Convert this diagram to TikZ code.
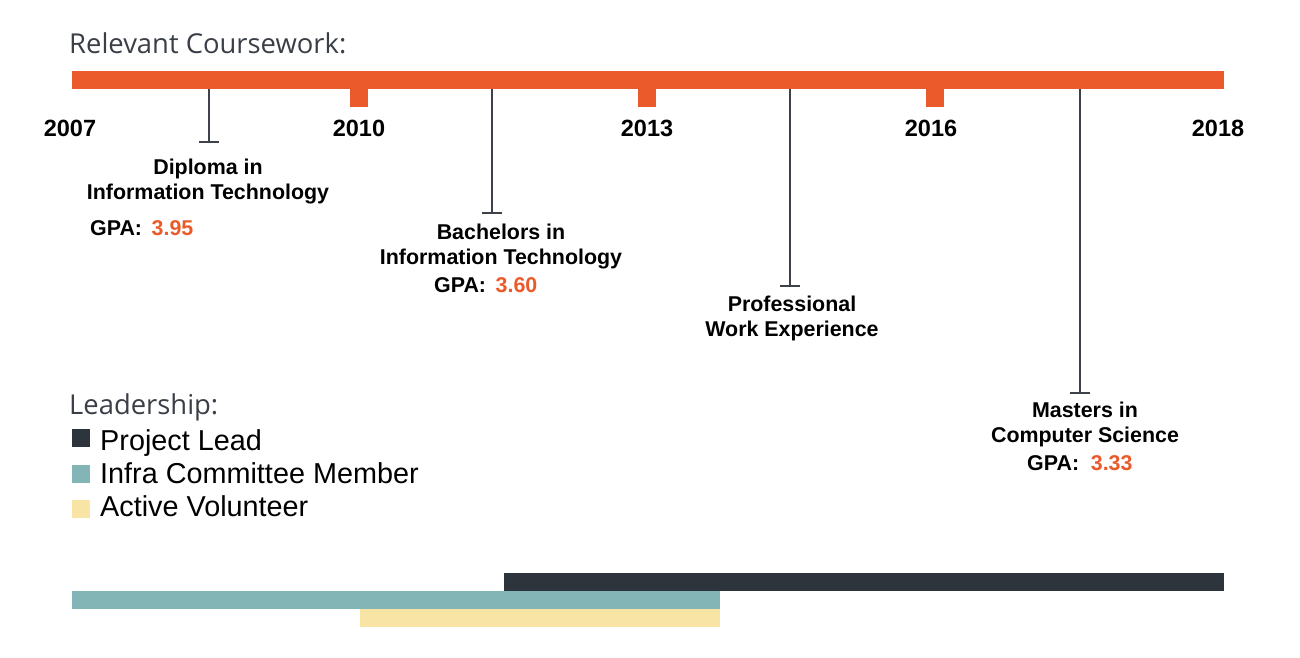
\documentclass[tikz,border=0pt]{standalone}
\usepackage{fontspec}
\setmainfont{Liberation Sans}
\newfontfamily\headfont{Open Sans}
\usetikzlibrary{arrows.meta}
\definecolor{orng}{HTML}{EB5A2B}
\definecolor{darkbar}{HTML}{2E343B}
\definecolor{tealbar}{HTML}{84B5B6}
\definecolor{yelbar}{HTML}{F8E5A6}
\definecolor{headgray}{HTML}{3A3F47}
\definecolor{linegray}{HTML}{3D424A}
\tikzset{
  yearlbl/.style={anchor=base, inner sep=0pt, font=\bfseries\fontsize{23.5}{28}\selectfont},
  itemlbl/.style={anchor=base, inner sep=0pt, font=\bfseries\fontsize{21.4}{25}\selectfont},
  gpalbl/.style={anchor=base west, inner sep=0pt, font=\bfseries\fontsize{21.4}{25}\selectfont},
  headlbl/.style={anchor=base west, inner sep=0pt, text=headgray, font=\headfont\fontsize{27.4}{32}\selectfont},
  leglbl/.style={anchor=base west, inner sep=0pt, font=\fontsize{28.8}{33}\selectfont},
  conn/.style={draw=linegray, line width=2.2pt, -{Bar[width=20pt,line width=2.2pt]}}
}
\begin{document}
\begin{tikzpicture}[x=1pt,y=-1pt]
\useasboundingbox (0,0) rectangle (1300,658);
% header
\node[headlbl] (hcw) at (69,54) {Relevant Coursework:};
% timeline bar and ticks
\fill[orng] (72,71) rectangle (1224,89);
\fill[orng] (350,89) rectangle (368,107);
\fill[orng] (638,89) rectangle (656,107);
\fill[orng] (926,89) rectangle (944,107);
% years
\node[yearlbl] (y2007) at (70,136) {2007};
\node[yearlbl] (y2010) at (359,136) {2010};
\node[yearlbl] (y2013) at (647,136) {2013};
\node[yearlbl] (y2016) at (931,136) {2016};
\node[yearlbl] (y2018) at (1218,136) {2018};
% connectors
\coordinate (c1a) at (209,89); \coordinate (c1b) at (209,143);
\coordinate (c2a) at (492,89); \coordinate (c2b) at (492,214);
\coordinate (c3a) at (790,89); \coordinate (c3b) at (790,287);
\coordinate (c4a) at (1080,89); \coordinate (c4b) at (1080,394);
\draw[conn] (c1a) -- (c1b);
\draw[conn] (c2a) -- (c2b);
\draw[conn] (c3a) -- (c3b);
\draw[conn] (c4a) -- (c4b);
% items
\node[itemlbl] (d1) at (208,174.5) {Diploma in};
\node[itemlbl] (d2) at (208,199.5) {Information Technology};
\node[gpalbl] (d3) at (90,235.5) {GPA:\hspace{0.45em}\textcolor{orng}{3.95}};
\node[itemlbl] (b1) at (501,239.5) {Bachelors in};
\node[itemlbl] (b2) at (501,264.5) {Information Technology};
\node[gpalbl] (b3) at (434,292.5) {GPA:\hspace{0.45em}\textcolor{orng}{3.60}};
\node[itemlbl] (p1) at (792,311.5) {Professional};
\node[itemlbl] (p2) at (792,336.5) {Work Experience};
\node[itemlbl] (m1) at (1085,417.5) {Masters in};
\node[itemlbl] (m2) at (1085,442.5) {Computer Science};
\node[gpalbl] (m3) at (1027,470.5) {GPA:\hspace{0.55em}\textcolor{orng}{3.33}};
% leadership legend
\node[headlbl] (hld) at (69,414) {Leadership:};
\fill[darkbar] (72,429) rectangle (90,447);
\fill[tealbar] (72,465) rectangle (90,483);
\fill[yelbar] (72,500) rectangle (90,518);
\node[leglbl] (l1) at (100,450) {Project Lead};
\node[leglbl] (l2) at (100,483) {Infra Committee Member};
\node[leglbl] (l3) at (100,516) {Active Volunteer};
% leadership bars
\fill[darkbar] (504,573) rectangle (1224,591);
\fill[tealbar] (72,591) rectangle (720,609);
\fill[yelbar] (360,609) rectangle (720,627);
\end{tikzpicture}
\end{document}
